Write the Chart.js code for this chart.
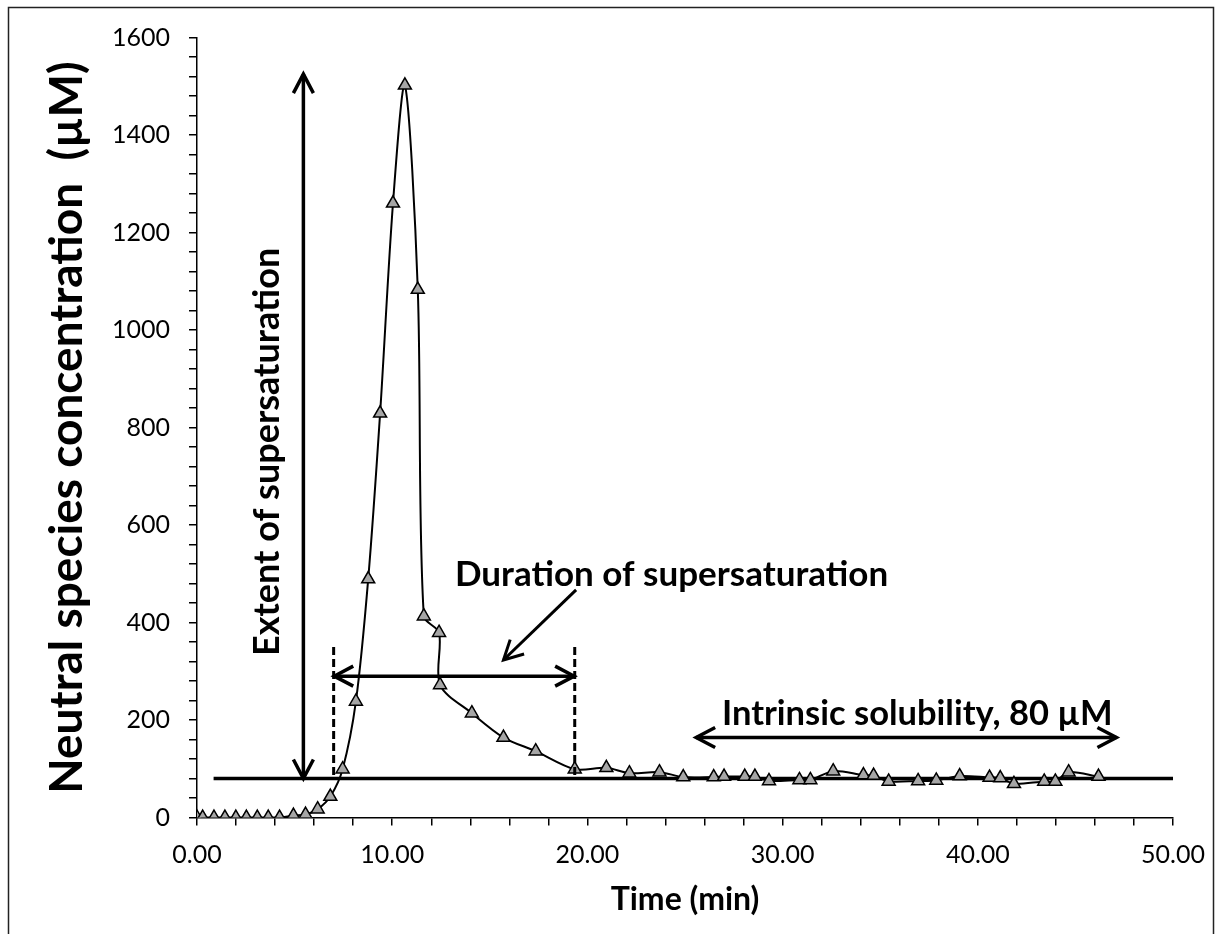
<!DOCTYPE html>
<html>
<head>
<meta charset="utf-8">
<script src="https://cdn.jsdelivr.net/npm/chart.js"></script>
<style>
  html, body { margin: 0; padding: 0; background: #fff; }
  #wrap { width: 1219px; height: 934px; position: relative; }
</style>
</head>
<body>
<div id="wrap"><canvas id="chart" width="1219" height="934"></canvas></div>
<script>
// measured time points (min) and neutral species concentration (uM)
var timeMin = [0, 0.29, 0.87, 1.43, 1.99, 2.53, 3.09, 3.65, 4.23, 4.94, 5.56, 6.18, 6.83, 7.46, 8.14,
  8.77, 9.38, 10.04, 10.65, 11.31, 11.62, 12.40, 12.45, 14.08, 15.70, 17.35, 19.35, 20.97, 22.15,
  23.69, 24.91, 26.47, 27.00, 28.06, 28.58, 29.30, 30.86, 31.42, 32.59, 34.14, 34.66, 35.43, 36.94,
  37.87, 39.07, 40.60, 41.15, 41.85, 43.40, 43.97, 44.65, 46.18];
var concentration = [0, 0, 0, 0, 0, 0, 0, 0, 0, 4, 6, 17, 43, 99, 238,
  489, 829, 1260, 1502, 1083, 413, 379, 272, 214, 164, 136, 99, 102, 91,
  93, 83, 83, 84, 84, 84, 75, 77, 77, 95, 87, 86, 74, 75,
  76, 85, 82, 81, 69, 74, 74, 93, 84];

// intrinsic solubility line
var solubility = 80;
var solubilityRange = [0.85, 50];

// annotation positions in data units
var extentArrow = { x: 5.45, y0: 80, y1: 1525 };
var extentLabel = { x: 3.62, y: 750, text: 'Extent of supersaturation' };
var durationArrow = { y: 290, x0: 7.03, x1: 19.32 };
var durationDashes = [7.0, 19.35];
var durationDashTop = 350;
var durationLabel = { x: 24.31, y: 499, text: 'Duration of supersaturation' };
var pointer = { x0: 19.42, y0: 467, x1: 15.7, y1: 323 };
var intrinsicArrow = { y: 164, x0: 25.57, x1: 47.1 };
var intrinsicLabel = { x: 36.9, y: 212, text: 'Intrinsic solubility, 80 \u00b5M' };

var FONT = 'Lato, "Open Sans", sans-serif';

var points = timeMin.map(function(t, i) { return { x: t, y: concentration[i] }; });
var solLine = solubilityRange.map(function(t) { return { x: t, y: solubility }; });

function head(ctx, x, y, ang, len, half) {
  // open V arrow head, tip at x,y pointing in direction ang
  var bx = x - Math.cos(ang) * len, by = y - Math.sin(ang) * len;
  var nx = -Math.sin(ang) * half, ny = Math.cos(ang) * half;
  ctx.beginPath();
  ctx.moveTo(bx + nx, by + ny);
  ctx.lineTo(x, y);
  ctx.lineTo(bx - nx, by - ny);
  ctx.stroke();
}

function arrow(ctx, x0, y0, x1, y1, both) {
  ctx.beginPath();
  ctx.moveTo(x0, y0);
  ctx.lineTo(x1, y1);
  ctx.stroke();
  var a = Math.atan2(y1 - y0, x1 - x0);
  head(ctx, x1, y1, a, 19, 10);
  if (both) head(ctx, x0, y0, a + Math.PI, 19, 10);
}

var annotations = {
  id: 'annotations',
  afterDatasetsDraw: function(chart) {
    var ctx = chart.ctx;
    var xs = chart.scales.x, ys = chart.scales.y;
    var px = function(v) { return xs.getPixelForValue(v); };
    var py = function(v) { return ys.getPixelForValue(v); };
    ctx.save();
    ctx.strokeStyle = '#000';
    ctx.fillStyle = '#000';
    ctx.lineWidth = 3.5;
    ctx.lineCap = 'butt';
    ctx.lineJoin = 'miter';

    arrow(ctx, px(extentArrow.x), py(extentArrow.y0), px(extentArrow.x), py(extentArrow.y1), true);
    arrow(ctx, px(durationArrow.x0), py(durationArrow.y), px(durationArrow.x1), py(durationArrow.y), true);
    arrow(ctx, px(intrinsicArrow.x0), py(intrinsicArrow.y), px(intrinsicArrow.x1), py(intrinsicArrow.y), true);
    ctx.lineWidth = 3;
    arrow(ctx, px(pointer.x0), py(pointer.y0), px(pointer.x1), py(pointer.y1), false);

    ctx.lineWidth = 3;
    ctx.setLineDash([8, 4]);
    durationDashes.forEach(function(t) {
      ctx.beginPath();
      ctx.moveTo(px(t), py(durationDashTop));
      ctx.lineTo(px(t), py(solubility));
      ctx.stroke();
    });
    ctx.setLineDash([]);

    ctx.textAlign = 'center';
    ctx.textBaseline = 'middle';
    ctx.font = 'bold 35px ' + FONT;
    ctx.fillText(durationLabel.text, px(durationLabel.x), py(durationLabel.y));
    ctx.font = 'bold 34.5px ' + FONT;
    ctx.fillText(intrinsicLabel.text, px(intrinsicLabel.x), py(intrinsicLabel.y));

    ctx.translate(px(extentLabel.x), py(extentLabel.y));
    ctx.rotate(-Math.PI / 2);
    ctx.font = 'bold 36px ' + FONT;
    ctx.fillText(extentLabel.text, 0, 0);
    ctx.restore();
  },
  afterDraw: function(chart) {
    var ctx = chart.ctx;
    ctx.save();
    ctx.strokeStyle = '#222';
    ctx.lineWidth = 1.5;
    ctx.strokeRect(8.5, 7.5, 1205, 940);
    ctx.restore();
  }
};

new Chart(document.getElementById('chart'), {
  type: 'scatter',
  data: {
    datasets: [{
      data: points,
      showLine: true,
      borderColor: '#000',
      borderWidth: 2,
      tension: 0.3,
      pointStyle: 'triangle',
      pointRadius: 7.5,
      pointBackgroundColor: '#a6a6a6',
      pointBorderColor: '#000',
      pointBorderWidth: 1.5,
      order: 0
    }, {
      data: solLine,
      showLine: true,
      borderColor: '#000',
      borderWidth: 3.5,
      pointRadius: 0,
      order: 1
    }]
  },
  options: {
    responsive: false,
    animation: false,
    layout: { padding: { top: 37.5, right: 41, left: 0, bottom: 0 } },
    plugins: { legend: { display: false }, tooltip: { enabled: false } },
    scales: {
      x: {
        type: 'linear',
        min: 0,
        max: 50,
        afterFit: function(s) { s.height = 116.5; },
        border: { color: '#000', width: 1.5 },
        grid: { drawOnChartArea: false, color: '#000', lineWidth: 1.5, tickLength: 8 },
        ticks: {
          stepSize: 2,
          autoSkip: false,
          maxRotation: 0,
          padding: 14,
          color: '#000',
          font: { family: FONT, size: 25 },
          callback: function(v) { return v % 10 === 0 ? v.toFixed(2) : ''; }
        },
        title: {
          display: true,
          text: 'Time (min)',
          color: '#000',
          font: { family: FONT, size: 32, weight: 'bold' },
          padding: { top: 0, bottom: 15 }
        }
      },
      y: {
        min: 0,
        max: 1600,
        afterFit: function(s) { s.width = 197; },
        border: { color: '#000', width: 1.5 },
        grid: { drawOnChartArea: false, color: '#000', lineWidth: 1.5, tickLength: 8 },
        ticks: {
          stepSize: 40,
          autoSkip: false,
          padding: 19,
          color: '#000',
          font: { family: FONT, size: 25 },
          callback: function(v) { return v % 200 === 0 ? String(v) : ''; }
        },
        title: {
          display: true,
          text: 'Neutral species concentration  (\u00b5M)',
          color: '#000',
          font: { family: FONT, size: 46, weight: 'bold' },
          padding: { top: 40, bottom: 0 }
        }
      }
    }
  },
  plugins: [annotations]
});
</script>
</body>
</html>
